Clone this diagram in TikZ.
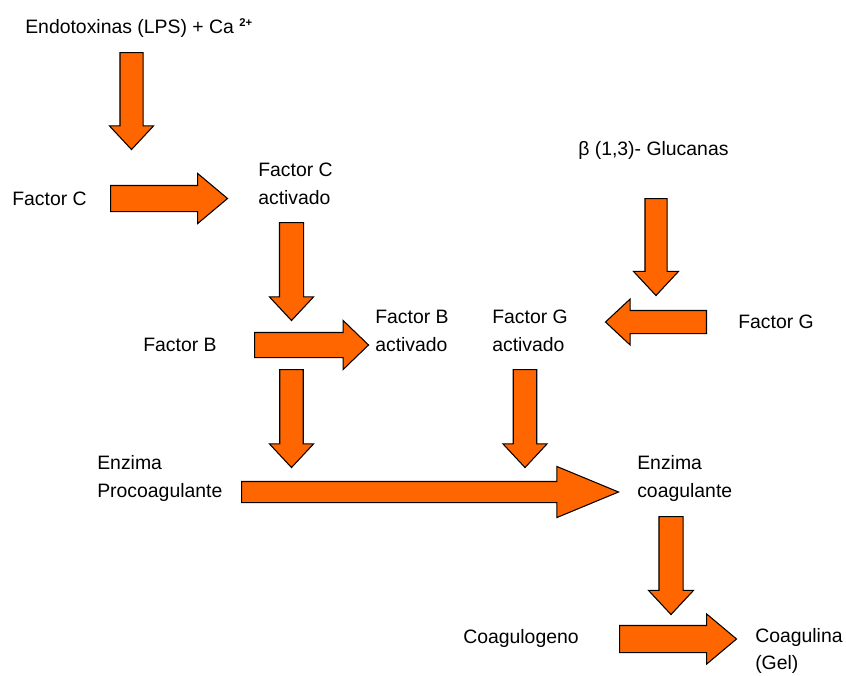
\documentclass[tikz,border=0pt]{standalone}
\usepackage{fontspec}
\setmainfont{Liberation Sans}
\usetikzlibrary{shapes.arrows}
\definecolor{arrorange}{RGB}{255,102,0}

\begin{document}
\begin{tikzpicture}[font=\fontsize{13.8}{19.5}\selectfont,
  lbl/.style={anchor=west,align=left,inner sep=0pt},
  barrow/.style={single arrow,anchor=tail,draw=black,fill=arrorange,line width=0.75pt,inner xsep=0pt,inner ysep=0.28cm,
    single arrow head indent=0pt,minimum height=2.45cm,
    single arrow head extend=0.26cm,single arrow tip angle=86},
  vert/.style={barrow,rotate=-90}]
\useasboundingbox[fill=white] (0,0) rectangle (21.15,-16.875);

% Factor C branch
\node[lbl] (endo) at (0.625,-0.7) {Endotoxinas (LPS) + Ca \raisebox{5.3pt}{\fontsize{8}{8}\selectfont\bfseries 2+}};
\node[vert,minimum height=2.425cm,inner ysep=0.275cm,single arrow head extend=0.2625cm] (a1) at (3.2875,-1.3) {};
\node[lbl] (fc) at (0.3,-4.975) {Factor C};
\node[barrow,minimum height=2.925cm,inner ysep=0.3125cm,single arrow head extend=0.3cm,single arrow tip angle=80] (a2) at (2.75,-4.9625) {};
\node[lbl] (fca) at (6.45,-4.6) {Factor C\\activado};
\node[vert,inner ysep=0.2875cm,single arrow head extend=0.25cm] (a3) at (7.2875,-5.55) {};

% Factor B
\node[lbl] (fb) at (3.575,-8.625) {Factor B};
\node[barrow,minimum height=2.85cm,inner ysep=0.3cm,single arrow head extend=0.3cm,single arrow tip angle=88] (a4) at (6.35,-8.625) {};
\node[lbl] (fba) at (9.375,-8.275) {Factor B\\activado};
\node[vert] (a5) at (7.2875,-9.225) {};

% Factor G branch
\node[lbl] (glu) at (14.45,-3.75) {β (1,3)- Glucanas};
\node[vert,minimum height=2.425cm,inner ysep=0.2625cm,single arrow head extend=0.2875cm] (a6) at (16.4,-4.95) {};
\node[lbl] (fg) at (18.45,-8.05) {Factor G};
\node[barrow,rotate=180,minimum height=2.525cm,inner ysep=0.275cm,single arrow head extend=0.2875cm] (a7) at (17.675,-8.05) {};
\node[lbl] (fga) at (12.3,-8.275) {Factor G\\activado};
\node[vert] (a8) at (13.125,-9.225) {};

% Enzimas
\node[lbl] (ezp) at (2.425,-11.9625) {Enzima\\Procoagulante};
\node[barrow,minimum height=9.425cm,inner ysep=0.25cm,single arrow head extend=0.375cm,single arrow tip angle=45] (a9) at (6.025,-12.3) {};
\node[lbl] (ezc) at (15.925,-11.9625) {Enzima\\coagulante};
\node[vert,inner ysep=0.2875cm,single arrow head extend=0.2625cm] (a10) at (16.775,-12.9) {};

% Coagulina
\node[lbl] (cgo) at (11.575,-15.95) {Coagulogeno};
\node[barrow,minimum height=2.925cm,inner ysep=0.325cm,single arrow head extend=0.2875cm,single arrow tip angle=80] (a11) at (15.475,-15.975) {};
\node[lbl] (cgi) at (18.875,-16.275) {Coagulina\\(Gel)};
\end{tikzpicture}
\end{document}
